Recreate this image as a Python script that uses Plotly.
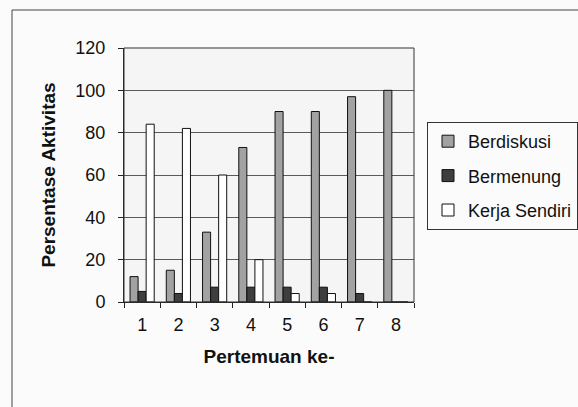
import plotly.graph_objects as go

# Persentase aktivitas siswa per pertemuan
pertemuan = ["1", "2", "3", "4", "5", "6", "7", "8"]
berdiskusi = [12, 15, 33, 73, 90, 90, 97, 100]
bermenung = [5, 4, 7, 7, 7, 7, 4, 0]
kerja_sendiri = [84, 82, 60, 20, 4, 4, 0, 0]
y_ticks = [0, 20, 40, 60, 80, 100, 120]

FONT = "Liberation Sans, Arial, sans-serif"
W, H = 578, 407
L, R, T, B = 124, 164, 48, 105
pw, ph = W - L - R, H - T - B

series = [
    ("Berdiskusi", berdiskusi, "#a2a2a2"),
    ("Bermenung", bermenung, "#3e3e3e"),
    ("Kerja Sendiri", kerja_sendiri, "#ffffff"),
]

fig = go.Figure()
for name, vals, color in series:
    fig.add_trace(go.Bar(
        x=pertemuan, y=vals, name=name, legendgroup=name,
        marker=dict(color=color, line=dict(color="#111111", width=1)),
    ))

def px_x(p):
    return (p - L) / pw

def px_y(p):
    return (H - B - p) / ph

fig.update_layout(
    width=W, height=H,
    margin=dict(l=L, r=R, t=T, b=B, autoexpand=False),
    paper_bgcolor="#fbfbfb",
    plot_bgcolor="#f5f5f5",
    barmode="group",
    bargap=0.333,
    bargroupgap=0,
    font=dict(family=FONT, color="#111111", size=18),
    showlegend=True,
    legend=dict(
        x=px_x(427), y=px_y(122), xanchor="left", yanchor="top",
        bgcolor="rgba(0,0,0,0)", bordercolor="#333333", borderwidth=1,
        font=dict(size=18, family=FONT),
        itemwidth=30, tracegroupgap=8, traceorder="grouped",
    ),
    xaxis=dict(
        type="category", showline=True, linecolor="#222222", linewidth=1,
        ticks="outside", tickson="boundaries", ticklen=5, tickcolor="#222222",
        showgrid=False, tickfont=dict(size=18, family=FONT),
        ticklabelstandoff=6,
        title=dict(text="<b>Pertemuan ke-</b>", font=dict(size=19, family=FONT), standoff=16),
    ),
    yaxis=dict(
        range=[0, 120], tickvals=y_ticks, showline=True, linecolor="#222222",
        linewidth=1, ticks="outside", ticklen=5, tickcolor="#222222",
        showgrid=True, gridcolor="#5a5a5a", gridwidth=1,
        tickfont=dict(size=18, family=FONT),
        ticklabelstandoff=9,
        title=dict(text="<b>Persentase Aktivitas</b>", font=dict(size=19, family=FONT), standoff=14),
        zeroline=False,
    ),
    shapes=[
        # chart frame
        dict(type="rect", xref="paper", yref="paper",
             x0=px_x(12), x1=px_x(620), y0=px_y(460), y1=px_y(10),
             line=dict(color="#444444", width=1), layer="below"),
        # plot area frame
        dict(type="rect", xref="paper", yref="paper", x0=0, x1=1, y0=0, y1=1,
             line=dict(color="#333333", width=1)),
    ],
)

fig.write_html("out.html")
